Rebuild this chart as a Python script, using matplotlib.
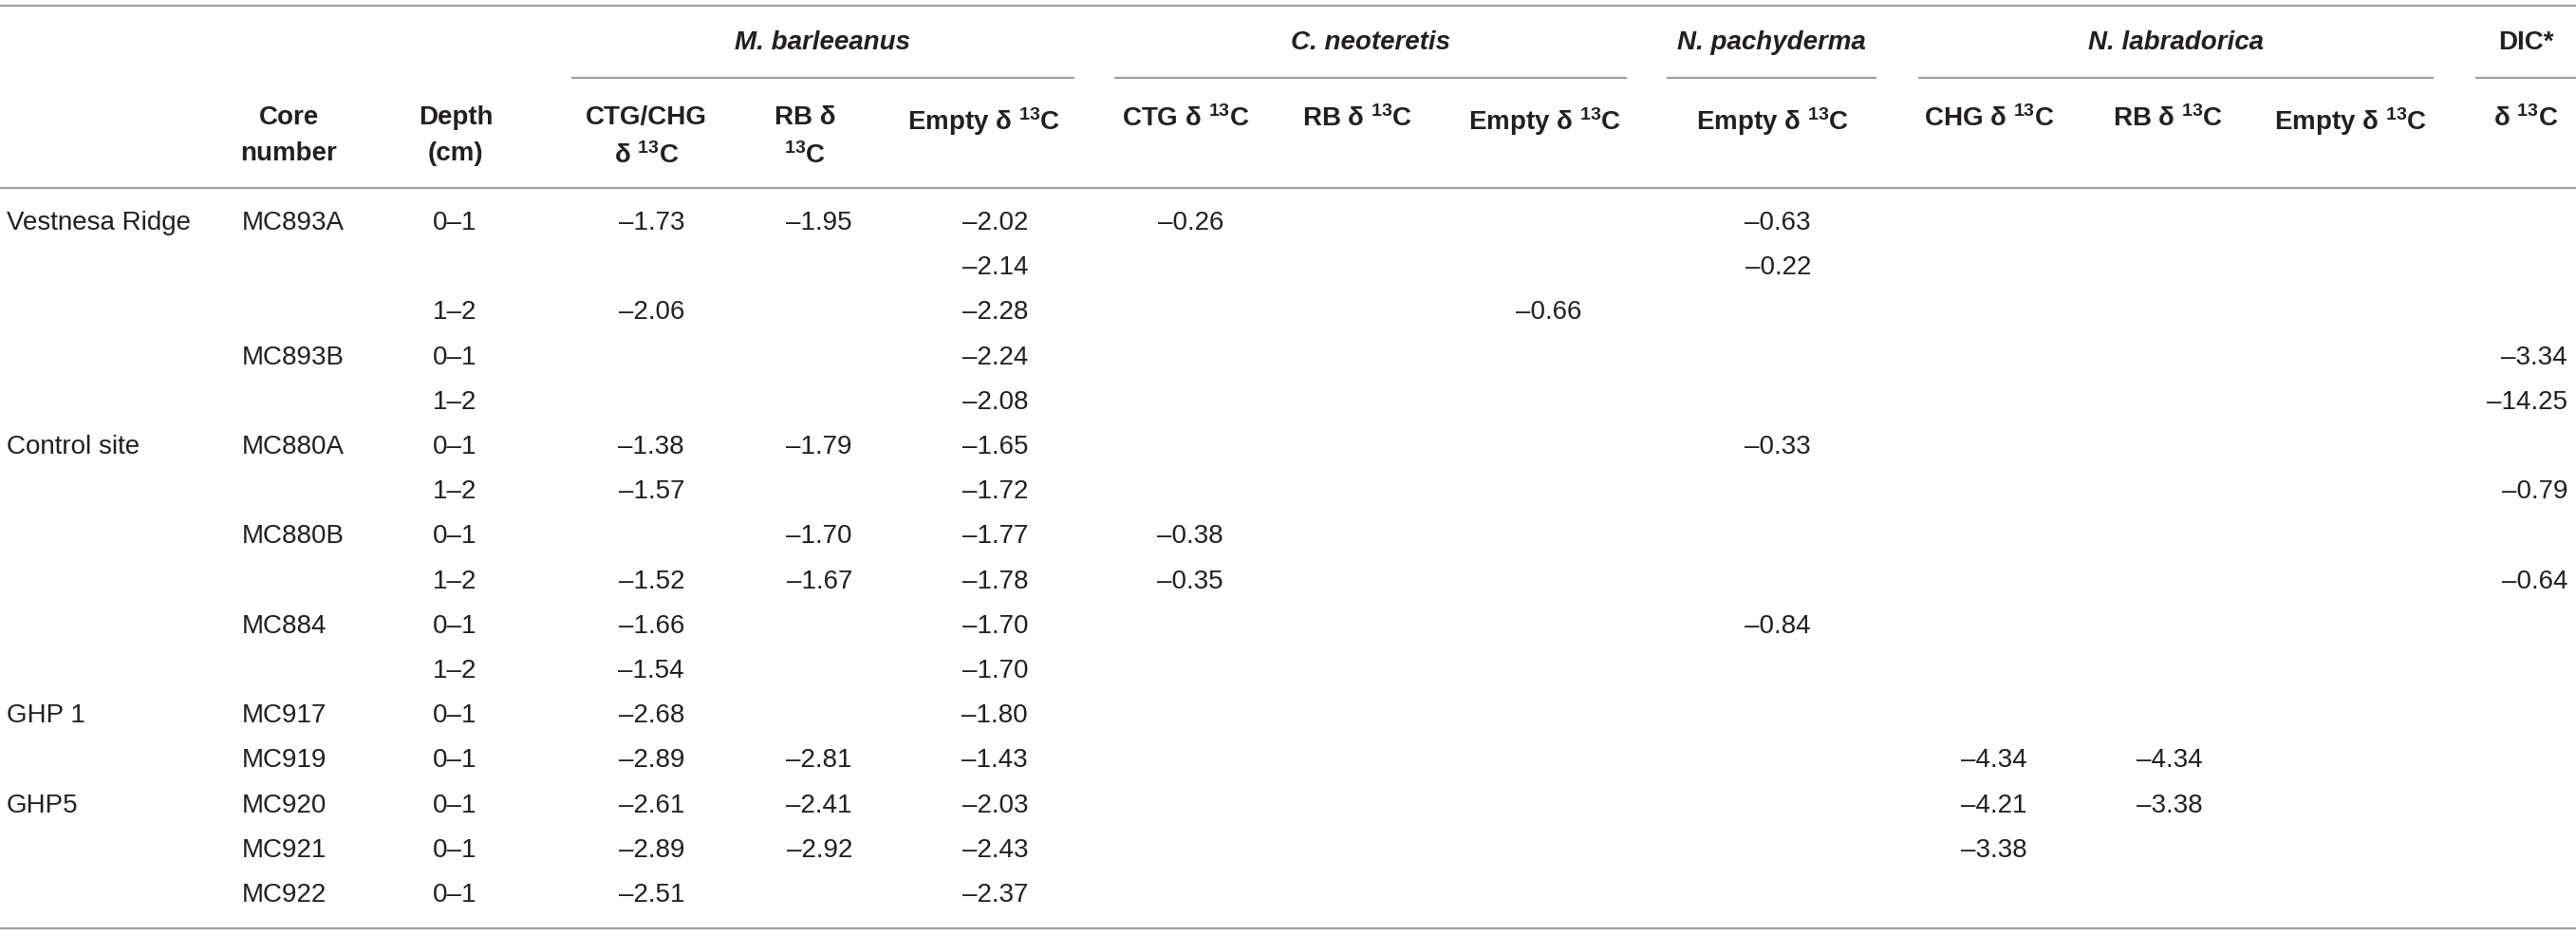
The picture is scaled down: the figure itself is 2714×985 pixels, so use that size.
import matplotlib
matplotlib.use("Agg")
import matplotlib.pyplot as plt

plt.rcParams["font.family"] = ["Liberation Sans", "DejaVu Sans"]
plt.rcParams["mathtext.default"] = "regular"

# ----- TABLE DATA -----
regions = ["Vestnesa Ridge", "", "", "", "", "Control site", "", "", "", "", "",
           "GHP 1", "", "GHP5", "", ""]
cores = ["MC893A", "", "", "MC893B", "", "MC880A", "", "MC880B", "", "MC884", "",
         "MC917", "MC919", "MC920", "MC921", "MC922"]
depths = ["0\u20131", "", "1\u20132", "0\u20131", "1\u20132", "0\u20131", "1\u20132", "0\u20131",
          "1\u20132", "0\u20131", "1\u20132", "0\u20131", "0\u20131", "0\u20131", "0\u20131", "0\u20131"]

mb_ctg = [-1.73, None, -2.06, None, None, -1.38, -1.57, None, -1.52, -1.66, -1.54,
          -2.68, -2.89, -2.61, -2.89, -2.51]
mb_rb = [-1.95, None, None, None, None, -1.79, None, -1.70, -1.67, None, None,
         None, -2.81, -2.41, -2.92, None]
mb_empty = [-2.02, -2.14, -2.28, -2.24, -2.08, -1.65, -1.72, -1.77, -1.78, -1.70, -1.70,
            -1.80, -1.43, -2.03, -2.43, -2.37]
cn_ctg = [-0.26, None, None, None, None, None, None, -0.38, -0.35, None, None,
          None, None, None, None, None]
cn_rb = [None] * 16
cn_empty = [None, None, -0.66, None, None, None, None, None, None, None, None,
            None, None, None, None, None]
np_empty = [-0.63, -0.22, None, None, None, -0.33, None, None, None, -0.84, None,
            None, None, None, None, None]
nl_chg = [None] * 12 + [-4.34, -4.21, -3.38, None]
nl_rb = [None] * 12 + [-4.34, -3.38, None, None]
nl_empty = [None] * 16
dic = [None, None, None, -3.34, -14.25, None, -0.79, None, -0.64, None, None,
       None, None, None, None, None]

groups = ["M. barleeanus", "C. neoteretis", "N. pachyderma", "N. labradorica", "DIC*"]

col_headers = ["CTG/CHG\n\u03b4 $^{13}$C", "RB \u03b4\n$^{13}$C", "Empty \u03b4 $^{13}$C",
               "CTG \u03b4 $^{13}$C", "RB \u03b4 $^{13}$C", "Empty \u03b4 $^{13}$C",
               "Empty \u03b4 $^{13}$C",
               "CHG \u03b4 $^{13}$C", "RB \u03b4 $^{13}$C", "Empty \u03b4 $^{13}$C",
               "\u03b4 $^{13}$C"]
value_cols = [mb_ctg, mb_rb, mb_empty, cn_ctg, cn_rb, cn_empty, np_empty,
              nl_chg, nl_rb, nl_empty, dic]

# ----- LAYOUT (pixels) -----
W, H = 2714, 985
fig = plt.figure(figsize=(W / 100, H / 100), dpi=100)
ax = fig.add_axes([0, 0, 1, 1])
ax.set_xlim(0, W)
ax.set_ylim(H, 0)
ax.axis("off")

txt = "#231f20"
rule = "#a0a0a0"
fs = 20

header_center = [681, 848, 1036, 1249, 1430, 1627, 1867, 2096, 2284, 2476, 2661]
value_right = [721, 898, 1083, 1289, 1470, 1666, 1908, 2136, 2321, 2516, 2705]
group_span = [(603, 1131), (1175, 1713), (1757, 1976), (2022, 2563), (2609, 2714)]

row0, row_step = 235, 47.2
head_top = 111

# rules
ax.plot([0, W], [6, 6], color=rule, lw=1.6)
ax.plot([0, W], [198, 198], color=rule, lw=1.6)
ax.plot([0, W], [978, 978], color=rule, lw=1.6)
for (a, b), name in zip(group_span, groups):
    ax.plot([a, b], [82, 82], color=rule, lw=1.6)
    style = "normal" if name.startswith("DIC") else "italic"
    ax.text((a + b) / 2, 45, name, ha="center", va="center", fontsize=fs,
            fontweight="bold", fontstyle=style, color=txt)

# column headers
ax.text(304, head_top, "Core\nnumber", ha="center", va="top", fontsize=fs,
        fontweight="bold", color=txt, linespacing=1.6)
ax.text(480, head_top, "Depth\n(cm)", ha="center", va="top", fontsize=fs,
        fontweight="bold", color=txt, linespacing=1.6)
for x, h in zip(header_center, col_headers):
    ax.text(x, head_top, h, ha="center", va="top", fontsize=fs, fontweight="bold",
            color=txt, linespacing=1.6)

# body
for i in range(len(cores)):
    y = row0 + i * row_step
    ax.text(7, y, regions[i], ha="left", va="center", fontsize=fs, color=txt)
    ax.text(255, y, cores[i], ha="left", va="center", fontsize=fs, color=txt)
    ax.text(456, y, depths[i], ha="left", va="center", fontsize=fs, color=txt)
    for x, col in zip(value_right, value_cols):
        v = col[i]
        if v is None:
            continue
        ax.text(x, y, f"\u2013{abs(v):.2f}", ha="right", va="center",
                fontsize=fs, color=txt)

plt.savefig("out.png", dpi=100, facecolor="white")
plt.close()
